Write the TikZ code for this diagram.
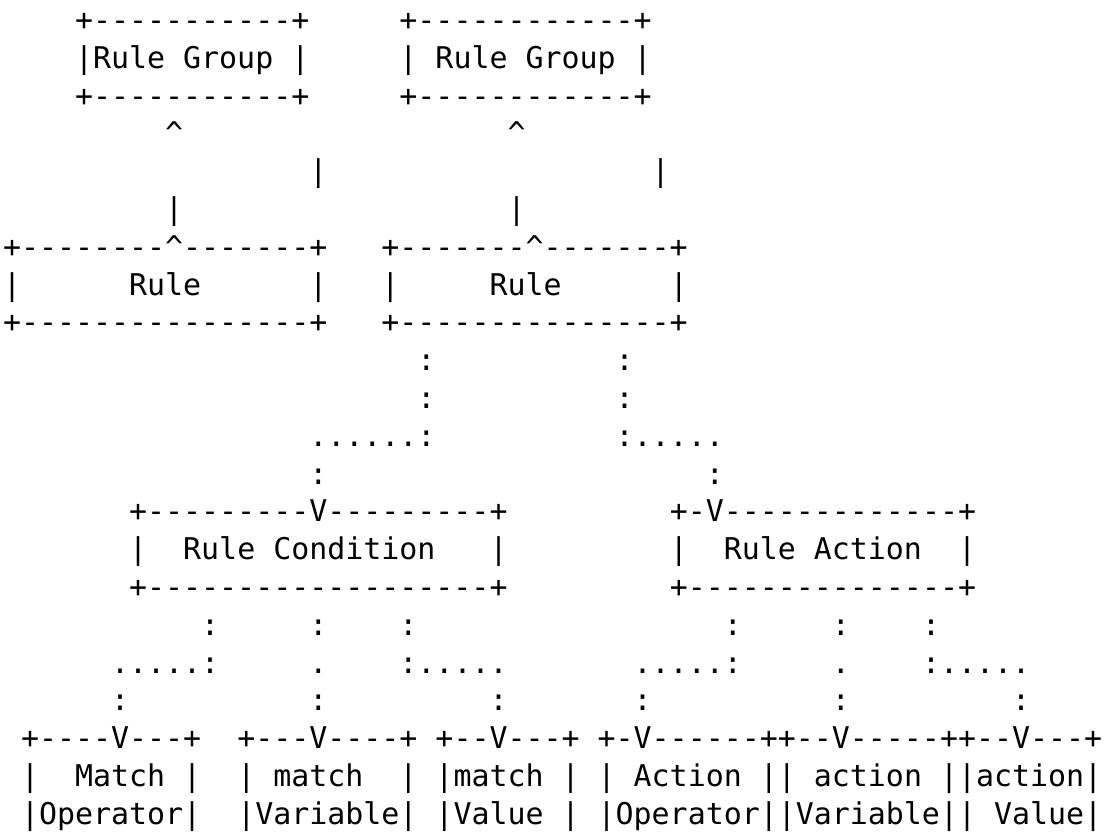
\documentclass[tikz,border=0pt]{standalone}
\usepackage{fontspec}
\setmonofont{DejaVu Sans Mono}
\newcommand\crt{\textasciicircum}
\begin{document}
\begin{tikzpicture}[
  ln/.style={anchor=base west, inner sep=0pt, outer sep=0pt, text=black,
    font=\ttfamily\fontsize{29.93}{36}\selectfont}]
\useasboundingbox (0pt,0pt) rectangle (1107pt,-831pt);
\begin{scope}[shift={(3pt,-30.5pt)}, x=18.02pt, y=-37.8pt]
% row 1-3: Rule Group boxes
\node[ln] (g1t) at (4,0) {+-----------+};
\node[ln] (g2t) at (22,0) {+------------+};
\node[ln] (g1m) at (4,1) {|Rule\ Group\ |};
\node[ln] (g2m) at (22,1) {|\ Rule\ Group\ |};
\node[ln] (g1b) at (4,2) {+-----------+};
\node[ln] (g2b) at (22,2) {+------------+};
% rows 4-6: connectors
\node[ln] (c1a) at (9,3) {\crt};
\node[ln] (c2a) at (28,3) {\crt};
\node[ln] (c1b) at (17,4) {|};
\node[ln] (c2b) at (36,4) {|};
\node[ln] (c1c) at (9,5) {|};
\node[ln] (c2c) at (28,5) {|};
% rows 7-9: Rule boxes
\node[ln] (r1t) at (0,6) {+--------\crt-------+};
\node[ln] (r2t) at (21,6) {+-------\crt-------+};
\node[ln] (r1l) at (0,7) {|};
\node[ln] (r1x) at (7,7) {Rule};
\node[ln] (r1r) at (17,7) {|};
\node[ln] (r2l) at (21,7) {|};
\node[ln] (r2x) at (27,7) {Rule};
\node[ln] (r2r) at (37,7) {|};
\node[ln] (r1b) at (0,8) {+----------------+};
\node[ln] (r2b) at (21,8) {+---------------+};
% rows 10-13: dotted links
\node[ln] (d1a) at (23,9) {:};
\node[ln] (d2a) at (34,9) {:};
\node[ln] (d1b) at (23,10) {:};
\node[ln] (d2b) at (34,10) {:};
\node[ln] (d1c) at (17,11) {......:};
\node[ln] (d2c) at (34,11) {:.....};
\node[ln] (d1d) at (17,12) {:};
\node[ln] (d2d) at (39,12) {:};
% rows 14-16: Rule Condition / Rule Action
\node[ln] (k1t) at (7,13) {+---------V---------+};
\node[ln] (k2t) at (37,13) {+-V-------------+};
\node[ln] (k1l) at (7,14) {|};
\node[ln] (k1x) at (10,14) {Rule\ Condition};
\node[ln] (k1r) at (27,14) {|};
\node[ln] (k2l) at (37,14) {|};
\node[ln] (k2x) at (40,14) {Rule\ Action};
\node[ln] (k2r) at (53,14) {|};
\node[ln] (k1b) at (7,15) {+-------------------+};
\node[ln] (k2b) at (37,15) {+---------------+};
% rows 17-19: dotted links
\node[ln] (e1) at (11,16) {:};
\node[ln] (e2) at (17,16) {:};
\node[ln] (e3) at (22,16) {:};
\node[ln] (e4) at (40,16) {:};
\node[ln] (e5) at (46,16) {:};
\node[ln] (e6) at (51,16) {:};
\node[ln] (f1) at (6,17) {.....:};
\node[ln] (f2) at (17,17) {.};
\node[ln] (f3) at (22,17) {:.....};
\node[ln] (f4) at (35,17) {.....:};
\node[ln] (f5) at (46,17) {.};
\node[ln] (f6) at (51,17) {:.....};
\node[ln] (h1) at (6,18) {:};
\node[ln] (h2) at (17,18) {:};
\node[ln] (h3) at (27,18) {:};
\node[ln] (h4) at (35,18) {:};
\node[ln] (h5) at (46,18) {:};
\node[ln] (h6) at (56,18) {:};
% rows 20-22: leaf boxes
\node[ln] (m1t) at (1,19) {+----V---+};
\node[ln] (m2t) at (13,19) {+---V----+};
\node[ln] (m3t) at (24,19) {+--V---+};
\node[ln] (a1t) at (33,19) {+-V------++--V-----++--V---+};
\node[ln] (m1l) at (1,20) {|};
\node[ln] (m1x) at (4,20) {Match};
\node[ln] (m1r) at (10,20) {|};
\node[ln] (m2l) at (13,20) {|};
\node[ln] (m2x) at (15,20) {match};
\node[ln] (m2r) at (22,20) {|};
\node[ln] (m3l) at (24,20) {|match};
\node[ln] (m3r) at (31,20) {|};
\node[ln] (a1l) at (33,20) {|};
\node[ln] (a1x) at (35,20) {Action};
\node[ln] (a1r) at (42,20) {||};
\node[ln] (a2x) at (45,20) {action};
\node[ln] (a2r) at (52,20) {||action|};
\node[ln] (m1y) at (1,21) {|Operator|};
\node[ln] (m2y) at (13,21) {|Variable|};
\node[ln] (m3y) at (24,21) {|Value};
\node[ln] (m3z) at (31,21) {|};
\node[ln] (a1y) at (33,21) {|Operator||Variable||};
\node[ln] (a3y) at (55,21) {Value|};
\end{scope}
\end{tikzpicture}
\end{document}
